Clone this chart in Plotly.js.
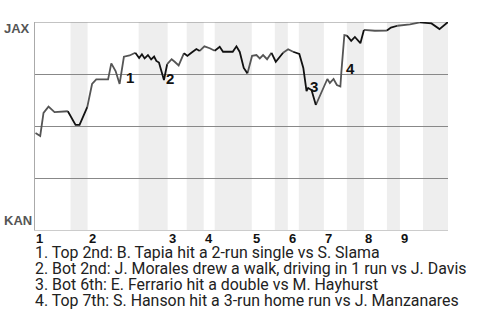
<!DOCTYPE html>
<html><head><meta charset="utf-8">
<script src="https://cdn.plot.ly/plotly-3.0.1.min.js"></script>
<style>html,body{margin:0;padding:0;background:#fff}#chart{width:480px;height:320px}</style>
</head><body><div id="chart"></div>
<script>
// Game progress (play sequence position) and JAX win probability
const gameProgress = [0.5,5.2,8.5,13.5,19.5,32.8,40.5,44.5,52.2,57,61.2,73,76.2,80.5,84.5,88.8,94.5,100.2,104,106.8,
  109.5,112.8,116,119,121.2,123.8,126.2,128.8,132,136.5,139.5,143.5,148.8,152.2,156.2,161.2,164.5,169.2,174.5,179.5,
  184.5,187.8,197.5,201.2,204.5,208.5,212.2,216.8,221.2,224.5,227.8,231.8,236.2,240.5,247.8,252.8,257.8,264,268,271.2,
  272.8,276.2,280.5,292,294.5,298.2,301.5,305,306,309,311.5,315.8,319.5,325,328.5,339.5,351.5,355.5,362,365,
  374.5,384.5,387.8,396,404,412.5];
const jaxWinProb = [0.466,0.452,0.563,0.593,0.567,0.571,0.505,0.505,0.591,0.702,0.724,0.724,0.801,0.764,0.702,0.833,0.839,0.852,0.827,0.845,
  0.825,0.841,0.820,0.834,0.813,0.805,0.761,0.721,0.797,0.821,0.809,0.791,0.850,0.837,0.852,0.870,0.861,0.883,0.874,0.862,
  0.881,0.857,0.857,0.883,0.856,0.779,0.753,0.837,0.841,0.825,0.841,0.821,0.852,0.809,0.852,0.869,0.857,0.846,0.779,0.668,
  0.683,0.673,0.601,0.726,0.707,0.726,0.697,0.690,0.760,0.9375,0.935,0.909,0.928,0.898,0.962,0.958,0.959,0.973,0.982,0.983,
  0.989,0.998,0.997,0.993,0.966,1.0];
const inningLabels = ['1','2','3','4','5','6','7','8','9'];
const topHalfStarts = [0,52.5,132.5,168.5,216.5,252.5,288.5,328.5,364.5];
const bottomHalfStarts = [35.5,103.5,151.5,179.5,239.5,263.5,311.5,351.5,387.5];
const gameEnd = 412.5;
const teams = ['JAX','KAN'];
const eventNumbers = ['1','2','3','4'];
const eventCaptions = [
  '1. Top 2nd: B. Tapia hit a 2-run single vs S. Slama',
  '2. Bot 2nd: J. Morales drew a walk, driving in 1 run vs J. Davis',
  '3. Bot 6th: E. Ferrario hit a double vs M. Hayhurst',
  '4. Top 7th: S. Hanson hit a 3-run home run vs J. Manzanares'
];

function isBottom(x){
  for (let i=0;i<bottomHalfStarts.length;i++){
    const end = i+1<topHalfStarts.length ? topHalfStarts[i+1] : gameEnd;
    if (x>bottomHalfStarts[i] && x<=end) return true;
  }
  return false;
}
// split into runs by half-inning
const topX=[],topY=[],botX=[],botY=[];
let cur=null;
for (let i=0;i<gameProgress.length-1;i++){
  const b = isBottom(gameProgress[i+1]);
  const X = b?botX:topX, Y = b?botY:topY;
  if (cur!==b){
    if (cur!==null){ const PX=cur?botX:topX, PY=cur?botY:topY; PX.push(null); PY.push(null);}
    X.push(gameProgress[i]); Y.push(jaxWinProb[i]);
    cur=b;
  }
  X.push(gameProgress[i+1]); Y.push(jaxWinProb[i+1]);
}

const traces = [
  {x:topX,y:topY,type:'scatter',mode:'lines',line:{color:'#555555',width:1.8},hoverinfo:'skip',connectgaps:false},
  {x:botX,y:botY,type:'scatter',mode:'lines',line:{color:'#111111',width:1.8},hoverinfo:'skip',connectgaps:false}
];

const shapes = bottomHalfStarts.map((s,i)=>({
  type:'rect',xref:'x',yref:'paper',x0:s,x1:(i+1<topHalfStarts.length?topHalfStarts[i+1]:gameEnd),y0:0,y1:1,
  fillcolor:'#eeeeee',line:{width:0},layer:'below'
}));
shapes.push({type:'line',xref:'paper',yref:'y',x0:0,x1:1,y0:1,y1:1,line:{color:'#888888',width:1},layer:'below'});

const annotations = [];
// team labels
annotations.push({xref:'paper',yref:'paper',x:-0.079,y:0.968,xanchor:'left',yanchor:'middle',showarrow:false,
  text:'<b>'+teams[0]+'</b>',font:{family:'Liberation Sans, Arial, sans-serif',size:13,color:'#555555'}});
annotations.push({xref:'paper',yref:'paper',x:-0.079,y:0.048,xanchor:'left',yanchor:'middle',showarrow:false,
  text:'<b>'+teams[1]+'</b>',font:{family:'Liberation Sans, Arial, sans-serif',size:13,color:'#555555'}});
// inning labels
inningLabels.forEach((t,i)=>annotations.push({xref:'x',yref:'paper',x:topHalfStarts[i],y:-0.039,xanchor:'left',yanchor:'middle',
  showarrow:false,borderpad:0,text:'<b>'+t+'</b>',font:{family:'Liberation Sans, Arial, sans-serif',size:13,color:'#111111'}}));
// event labels
const eventPos = [[88.5,0.731],[128.5,0.726],[272.3,0.692],[308.8,0.776]];
eventNumbers.forEach((t,i)=>annotations.push({xref:'x',yref:'y',x:eventPos[i][0],y:eventPos[i][1],xanchor:'left',yanchor:'middle',
  showarrow:false,text:'<b>'+t+'</b>',font:{family:'Liberation Sans, Arial, sans-serif',size:15,color:'#111111'}}));
// captions
const capY = [-0.108,-0.187,-0.264,-0.341];
eventCaptions.forEach((t,i)=>annotations.push({xref:'paper',yref:'paper',x:-0.002,y:capY[i],xanchor:'left',yanchor:'middle',
  showarrow:false,borderpad:0,text:t,font:{family:'Roboto, sans-serif',size:15.9,color:'#222222'}}));

const layout = {
  width:480,height:320,autosize:false,
  margin:{l:35,r:32,t:22,b:90,pad:0},
  paper_bgcolor:'#ffffff',plot_bgcolor:'#ffffff',
  showlegend:false,
  xaxis:{range:[0,gameEnd],showgrid:false,zeroline:false,showticklabels:false,ticks:'',showline:true,linecolor:'#cccccc',linewidth:1,fixedrange:true},
  yaxis:{range:[0,1],tickvals:[0.25,0.5,0.75],showgrid:true,gridcolor:'#888888',gridwidth:1,zeroline:false,showticklabels:false,ticks:'',
    showline:true,linecolor:'#aaaaaa',linewidth:1,fixedrange:true},
  shapes:shapes,
  annotations:annotations
};
Plotly.newPlot('chart',traces,layout,{displayModeBar:false,staticPlot:true});
</script></body></html>
